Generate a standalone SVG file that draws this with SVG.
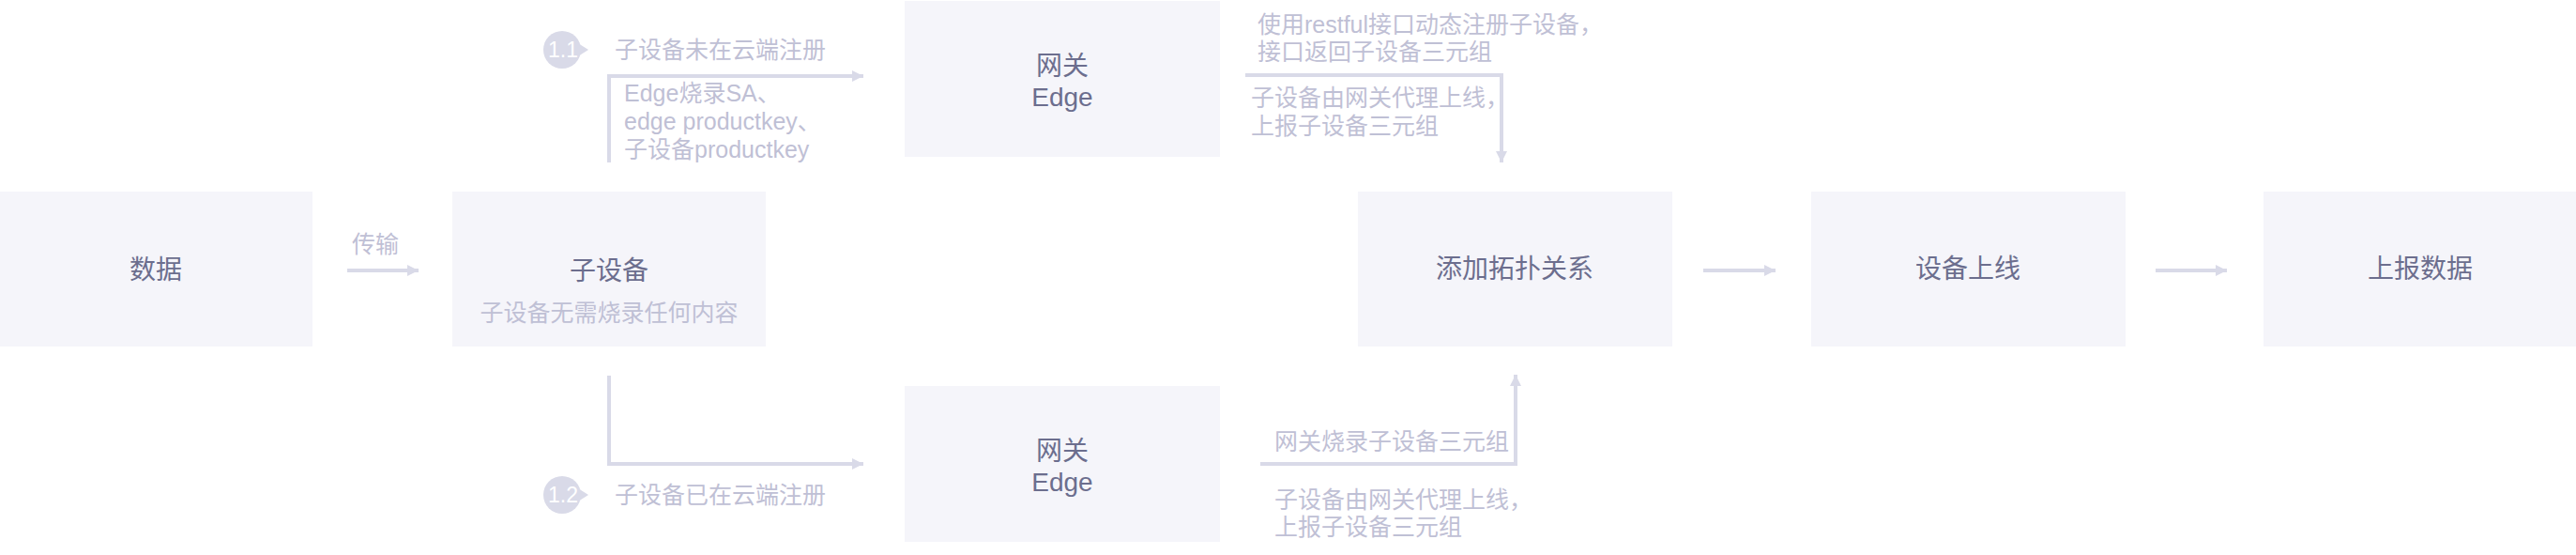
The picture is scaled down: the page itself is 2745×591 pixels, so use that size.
<svg xmlns="http://www.w3.org/2000/svg" width="2745" height="591" viewBox="0 0 2745 591">
<style>
.box{fill:#f5f5fa}
.t{font-family:"Liberation Sans","Noto Sans CJK SC",sans-serif}
.main{font-size:28px;fill:#6c6e8e;text-anchor:middle}
.sub{font-size:25px;fill:#bfc0d5}
.mid{text-anchor:middle}
.con{fill:none;stroke:#d9dae8;stroke-width:4}
.badge{fill:#d9dae8}
.btxt{font-size:23px;fill:#ffffff;text-anchor:middle}
</style>
<defs>
<marker id="ah" markerUnits="userSpaceOnUse" markerWidth="14" markerHeight="14" refX="12" refY="6" orient="auto">
<path d="M0,0 L12,6 L0,12 Z" fill="#d9dae8"/>
</marker>
</defs>
<rect width="2745" height="591" fill="#ffffff"/>

<g id="connectors">
<path class="con" d="M370,288 H446" marker-end="url(#ah)"/>
<path class="con" d="M649,173 V81 H920" marker-end="url(#ah)"/>
<path class="con" d="M649,400 V494 H920" marker-end="url(#ah)"/>
<path class="con" d="M1327,80 H1600 V173" marker-end="url(#ah)"/>
<path class="con" d="M1343,494 H1615 V399" marker-end="url(#ah)"/>
<path class="con" d="M1815,288 H1892" marker-end="url(#ah)"/>
<path class="con" d="M2297,288 H2373" marker-end="url(#ah)"/>
</g>

<g id="labels" class="t">
<text class="sub" x="375" y="269" font-size="24">传输</text>
<text class="sub" x="655" y="62">子设备未在云端注册</text>
<text class="sub" x="665" y="108">Edge烧录SA、</text>
<text class="sub" x="665" y="138">edge productkey、</text>
<text class="sub" x="665" y="168">子设备productkey</text>
<text class="sub" x="655" y="536">子设备已在云端注册</text>
<text class="sub" x="1340" y="35">使用restful接口动态注册子设备，</text>
<text class="sub" x="1340" y="64">接口返回子设备三元组</text>
<text class="sub" x="1333" y="113">子设备由网关代理上线，</text>
<text class="sub" x="1333" y="143">上报子设备三元组</text>
<text class="sub" x="1358" y="479">网关烧录子设备三元组</text>
<text class="sub" x="1358" y="541">子设备由网关代理上线，</text>
<text class="sub" x="1358" y="570">上报子设备三元组</text>
</g>

<g id="badge-1-1">
<circle class="badge" cx="599" cy="53" r="20"/>
<path class="badge" d="M616,46 L627,53 L616,60 Z"/>
<text class="t btxt" x="600" y="61">1.1</text>
</g>
<g id="badge-1-2">
<circle class="badge" cx="599" cy="527" r="20"/>
<path class="badge" d="M616,520 L627,527 L616,534 Z"/>
<text class="t btxt" x="600" y="535">1.2</text>
</g>

<g id="node-data">
<rect class="box" x="0" y="204" width="333" height="165"/>
<text class="t main" x="166" y="297">数据</text>
</g>
<g id="node-subdevice">
<rect class="box" x="482" y="204" width="334" height="165"/>
<text class="t main" x="649" y="298">子设备</text>
<text class="t sub mid" x="649" y="342">子设备无需烧录任何内容</text>
</g>
<g id="node-edge-top">
<rect class="box" x="964" y="1" width="336" height="166"/>
<text class="t main" x="1132" y="80">网关</text>
<text class="t main" x="1132" y="113">Edge</text>
</g>
<g id="node-edge-bottom">
<rect class="box" x="964" y="411" width="336" height="166"/>
<text class="t main" x="1132" y="490">网关</text>
<text class="t main" x="1132" y="523">Edge</text>
</g>
<g id="node-topology">
<rect class="box" x="1447" y="204" width="335" height="165"/>
<text class="t main" x="1614" y="296">添加拓扑关系</text>
</g>
<g id="node-online">
<rect class="box" x="1930" y="204" width="335" height="165"/>
<text class="t main" x="2097" y="296">设备上线</text>
</g>
<g id="node-report">
<rect class="box" x="2412" y="204" width="333" height="165"/>
<text class="t main" x="2579" y="296">上报数据</text>
</g>
</svg>
